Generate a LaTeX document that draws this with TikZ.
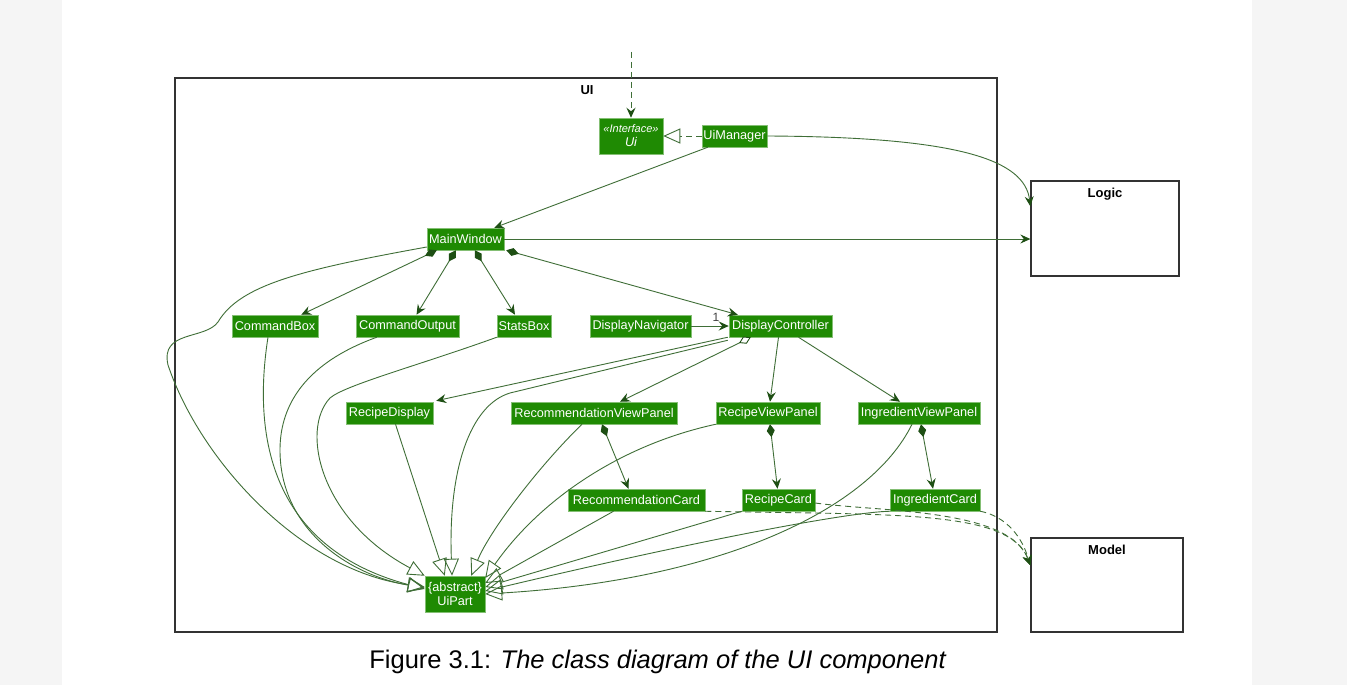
\documentclass[tikz,border=0pt]{standalone}
\usepackage{fontspec}
\setmainfont{Liberation Sans}
\usetikzlibrary{arrows.meta,calc}
\definecolor{umlgreen}{HTML}{1F8A03}
\definecolor{umledge}{HTML}{3F6E37}
\definecolor{umltip}{HTML}{1E4F14}
\definecolor{pagegray}{HTML}{F5F5F5}
\begin{document}
\begin{tikzpicture}[x=1pt,y=-1pt]
\tikzstyle{class node}=[rectangle,fill=umlgreen,draw=umlgreen!55!white,line width=0.5pt,text=white,font=\fontsize{12.7}{15}\selectfont,inner sep=0pt,minimum height=22pt]
\tikzstyle{package}=[rectangle,draw=black!80,line width=1.3pt,inner sep=0pt]
\tikzstyle{assoc}=[draw=umledge,line width=0.9pt,arrows={-Stealth[length=10pt,width=9pt,inset=3.5pt,color=umltip]}]
\tikzstyle{comp}=[draw=umledge,line width=0.9pt,arrows={Diamond[length=13pt,width=8pt,color=umltip]-Stealth[length=10pt,width=9pt,inset=3.5pt,color=umltip]}]
\tikzstyle{aggr}=[draw=umledge,line width=0.9pt,arrows={Diamond[length=13pt,width=8pt,color=umltip,fill=white]-Stealth[length=10pt,width=9pt,inset=3.5pt,color=umltip]}]
\tikzstyle{inh}=[draw=umledge,line width=0.9pt,arrows={-Triangle[open,length=17pt,width=15pt,color=umledge]}]
\tikzstyle{dep}=[assoc,dash pattern=on 6pt off 4pt]
\tikzstyle{real}=[inh,dash pattern=on 6pt off 4pt]

\fill[pagegray] (0,0) rectangle (1347,685);
\fill[white] (62,0) rectangle (1252,685);
\useasboundingbox (0,0) rectangle (1347,685);

\node(uipkg)[package,minimum width=822,minimum height=554] at (586,355){};
\node[font=\bfseries\fontsize{13}{15}\selectfont] at (587,90){UI};
\node(logic)[package,minimum width=148,minimum height=95] at (1105,228.5){};
\node[font=\bfseries\fontsize{13}{15}\selectfont] at (1105,194){Logic};
\node(model)[package,minimum width=152,minimum height=94] at (1107,585){};
\node[font=\bfseries\fontsize{13}{15}\selectfont] at (1107,550){Model};

\node(ui)[class node,minimum width=64,minimum height=36,align=center] at (631,136){{\fontsize{11}{13}\selectfont\itshape «Interface»}\\[-1pt]\itshape Ui};
\node(uimgr)[class node,minimum width=65] at (734.5,136){UiManager};
\node(mainwin)[class node,minimum width=77] at (465.5,239){MainWindow};
\node(cmdbox)[class node,minimum width=86] at (275,326){CommandBox};
\node(cmdout)[class node,minimum width=103] at (407.5,326){CommandOutput};
\node(stats)[class node,minimum width=54] at (524,326){StatsBox};
\node(dispnav)[class node,minimum width=101] at (640.5,326){DisplayNavigator};
\node(dispctrl)[class node,minimum width=103] at (780.5,326){DisplayController};
\node(recdisp)[class node,minimum width=87] at (389.5,413){RecipeDisplay};
\node(recomview)[class node,minimum width=166] at (594,413){RecommendationViewPanel};
\node(recipeview)[class node,minimum width=104] at (768,413){RecipeViewPanel};
\node(ingview)[class node,minimum width=122] at (919,413){IngredientViewPanel};
\node(recomcard)[class node,minimum width=137] at (636.5,500){RecommendationCard};
\node(recipecard)[class node,minimum width=73] at (778.5,500){RecipeCard};
\node(ingcard)[class node,minimum width=90] at (935,500){IngredientCard};
\node(uipart)[class node,minimum width=60,minimum height=36,align=center] at (455,594){\{abstract\}\\[-1pt]UiPart};

\coordinate(ext) at (631,52);
\coordinate(logicin) at ($(logic.north west)+(0,26)$);
\coordinate(modelin) at ($(model.north west)+(0,28)$);

\draw[dep] (ext) -- (ui.north);
\draw[real] (uimgr.west) -- (ui.east);
\draw[assoc] (uimgr.east) .. controls (960,137) and (1025,160) .. (logicin);
\draw[assoc] ($(uimgr.south west)+(6,0)$) -- ($(mainwin.north east)+(-10,0)$);
\draw[assoc] (mainwin.east) -- (mainwin.east -| logic.west);

\draw[comp] ($(mainwin.south west)+(10,0)$) -- ($(cmdbox.north east)+(-17,0)$);
\draw[comp] ($(mainwin.south west)+(29,0)$) -- ($(cmdout.north)+(9,0)$);
\draw[comp] ($(mainwin.south west)+(48,0)$) -- ($(stats.north)+(-9,0)$);
\draw[comp] ($(mainwin.south east)+(2,0)$) -- ($(dispctrl.north west)+(9,0)$);
\node[font=\fontsize{12}{14}\selectfont,text=black!75] at (716,317){1};
\draw[assoc] (dispnav.east) -- (dispctrl.west);

\draw[assoc] ($(dispctrl.south west)+(-1,0)$) -- ($(recdisp.north east)+(3,-1)$);
\draw[aggr] ($(dispctrl.south west)+(22,0)$) -- ($(recomview.north)+(26,0)$);
\draw[assoc] ($(dispctrl.south)+(-2,0)$) -- ($(recipeview.north)+(2,0)$);
\draw[assoc] ($(dispctrl.south)+(18,0)$) -- ($(ingview.north)+(-19,0)$);
\draw[comp] ($(recomview.south)+(8,0)$) -- ($(recomcard.north)+(-8,0)$);
\draw[comp] ($(recipeview.south)+(2,0)$) -- ($(recipecard.north)+(-1,0)$);
\draw[comp] ($(ingview.south)+(2,0)$) -- ($(ingcard.north)+(-2,0)$);

\draw[inh] ($(mainwin.west)+(0,8)$) .. controls (300,270) and (240,285) .. (218,322) .. controls (205,340) and (160,330) .. (168,365) .. controls (200,460) and (300,570) .. ($(uipart.west)+(0,-7)$);
\draw[inh] ($(cmdbox.south)+(-7,0)$) .. controls (255,420) and (260,545) .. ($(uipart.west)+(0,-5)$);
\draw[inh] ($(cmdout.south west)+(21,0)$) .. controls (300,365) and (280,410) .. (280,450) .. controls (280,530) and (350,575) .. ($(uipart.west)+(0,-6)$);
\draw[inh] (stats.south west) .. controls (420,365) and (345,385) .. (330,398) .. controls (300,430) and (320,520) .. (uipart.north west);
\draw[inh] ($(recdisp.south)+(6,0)$) -- ($(uipart.north west)+(20,0)$);
\draw[inh] ($(dispctrl.south west)+(-1,3)$) -- (510,393) .. controls (470,405) and (448,470) .. ($(uipart.north)+(-3,0)$);
\draw[inh] ($(recomview.south)+(-12,0)$) .. controls (540,465) and (490,530) .. ($(uipart.north east)+(-14,0)$);
\draw[inh] (recipeview.south west) .. controls (620,445) and (540,500) .. ($(uipart.east)+(0,-16)$);
\draw[inh] ($(recomcard.south)+(-23,0)$) -- ($(uipart.east)+(0,-11)$);
\draw[inh] (recipecard.south west) -- ($(uipart.east)+(0,-7)$);
\draw[inh] (ingcard.south west) .. controls (850,512) and (700,540) .. ($(uipart.east)+(0,-3)$);
\draw[inh] ($(ingview.south)+(-7,0)$) .. controls (870,510) and (720,580) .. (uipart.east);

\draw[dep] (recomcard.south east) .. controls (900,515) and (1010,510) .. (modelin);
\draw[dep] ($(recipecard.east)+(0,3)$) .. controls (880,512) and (1010,508) .. (modelin);
\draw[dep] (ingcard.south east) .. controls (1000,515) and (1020,530) .. (modelin);

\node[font=\fontsize{25.5}{30}\selectfont] at (658,662){Figure 3.1: \textit{The class diagram of the UI component}};
\end{tikzpicture}
\end{document}
